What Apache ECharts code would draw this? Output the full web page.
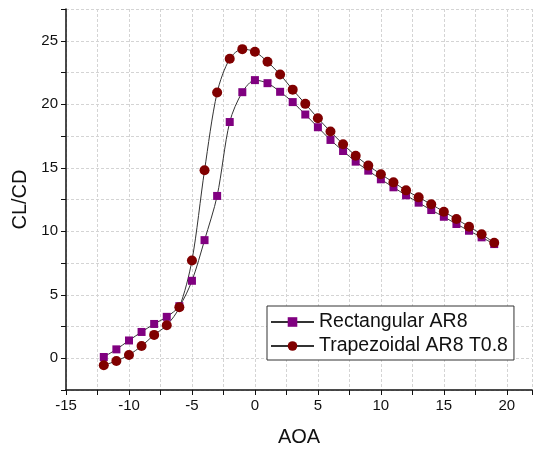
<!DOCTYPE html>
<html>
<head>
<meta charset="utf-8">
<script src="https://cdn.jsdelivr.net/npm/echarts@6/dist/echarts.min.js"></script>
<style>
  html, body { margin: 0; padding: 0; background: #fff; }
  #chart { width: 535px; height: 452px; }
</style>
</head>
<body>
<div id="chart"></div>
<script>
var aoa = [-12, -11, -10, -9, -8, -7, -6, -5, -4, -3, -2, -1, 0, 1, 2, 3, 4, 5, 6, 7, 8, 9, 10, 11, 12, 13, 14, 15, 16, 17, 18, 19];

var rect_ar8 = [0.1, 0.7, 1.4, 2.07, 2.7, 3.26, 4.1, 6.1, 9.3, 12.78, 18.6, 20.95, 21.9, 21.66, 20.98, 20.17,
  19.19, 18.19, 17.19, 16.32, 15.48, 14.77, 14.09, 13.46, 12.83, 12.25, 11.67, 11.14, 10.57, 10.04, 9.52, 8.99];

var trap_ar8 = [-0.55, -0.21, 0.26, 0.97, 1.84, 2.6, 4.02, 7.7, 14.8, 20.92, 23.58, 24.34, 24.13, 23.34, 22.34, 21.15,
  20.03, 18.9, 17.85, 16.85, 15.95, 15.17, 14.49, 13.85, 13.22, 12.67, 12.12, 11.54, 10.96, 10.36, 9.76, 9.09];

var series_names = ['Rectangular AR8', 'Trapezoidal AR8 T0.8'];

function pairs(xs, ys) {
  return xs.map(function(x, i) { return [x, ys[i]]; });
}

var font = '"Liberation Sans", Arial, sans-serif';
var grid_line = { show: true, lineStyle: { color: '#d4d4d4', type: [3, 2], width: 1 } };

var option = {
  animation: false,
  grid: { left: 66, right: 1, top: 9, bottom: 62 },
  legend: {
    orient: 'vertical',
    left: 267,
    top: 306,
    width: 248,
    borderColor: '#333',
    borderWidth: 1,
    borderRadius: 0,
    padding: [6, 6, 4, 3],
    itemGap: 4,
    itemWidth: 43,
    itemHeight: 12,
    backgroundColor: '#fff',
    textStyle: { fontFamily: font, fontSize: 19.5, color: '#111' },
    data: series_names
  },
  xAxis: {
    type: 'value',
    min: -15,
    max: 22,
    interval: 2.5,
    name: 'AOA',
    nameLocation: 'middle',
    nameGap: 37,
    nameTextStyle: { fontFamily: font, fontSize: 20, color: '#111' },
    axisLine: { show: true, onZero: false, lineStyle: { color: '#111', width: 1.5 } },
    axisTick: { show: true, length: 5, lineStyle: { color: '#111' } },
    axisLabel: {
      fontFamily: font, fontSize: 15, color: '#111', margin: 8,
      formatter: function(v) { return v % 5 === 0 ? String(v) : ''; }
    },
    splitLine: grid_line
  },
  yAxis: {
    type: 'value',
    min: -2.5,
    max: 27.5,
    interval: 2.5,
    name: 'CL/CD',
    nameLocation: 'middle',
    nameGap: 34,
    nameTextStyle: { fontFamily: font, fontSize: 20, color: '#111' },
    axisLine: { show: true, onZero: false, lineStyle: { color: '#111', width: 1.5 } },
    axisTick: { show: true, length: 5, lineStyle: { color: '#111' } },
    axisLabel: {
      fontFamily: font, fontSize: 15, color: '#111', margin: 8,
      formatter: function(v) { return v % 5 === 0 ? String(v) : ''; }
    },
    splitLine: grid_line
  },
  series: [{
    name: series_names[0],
    type: 'line',
    data: pairs(aoa, rect_ar8),
    smooth: 0.3,
    symbol: 'rect',
    symbolSize: 8,
    itemStyle: { color: '#800080' },
    lineStyle: { color: '#333', width: 1 }
  }, {
    name: series_names[1],
    type: 'line',
    data: pairs(aoa, trap_ar8),
    smooth: 0.3,
    symbol: 'circle',
    symbolSize: 10,
    itemStyle: { color: '#800000' },
    lineStyle: { color: '#333', width: 1 }
  }]
};

var myChart = echarts.init(document.getElementById('chart'));
myChart.setOption(option);
</script>
</body>
</html>
